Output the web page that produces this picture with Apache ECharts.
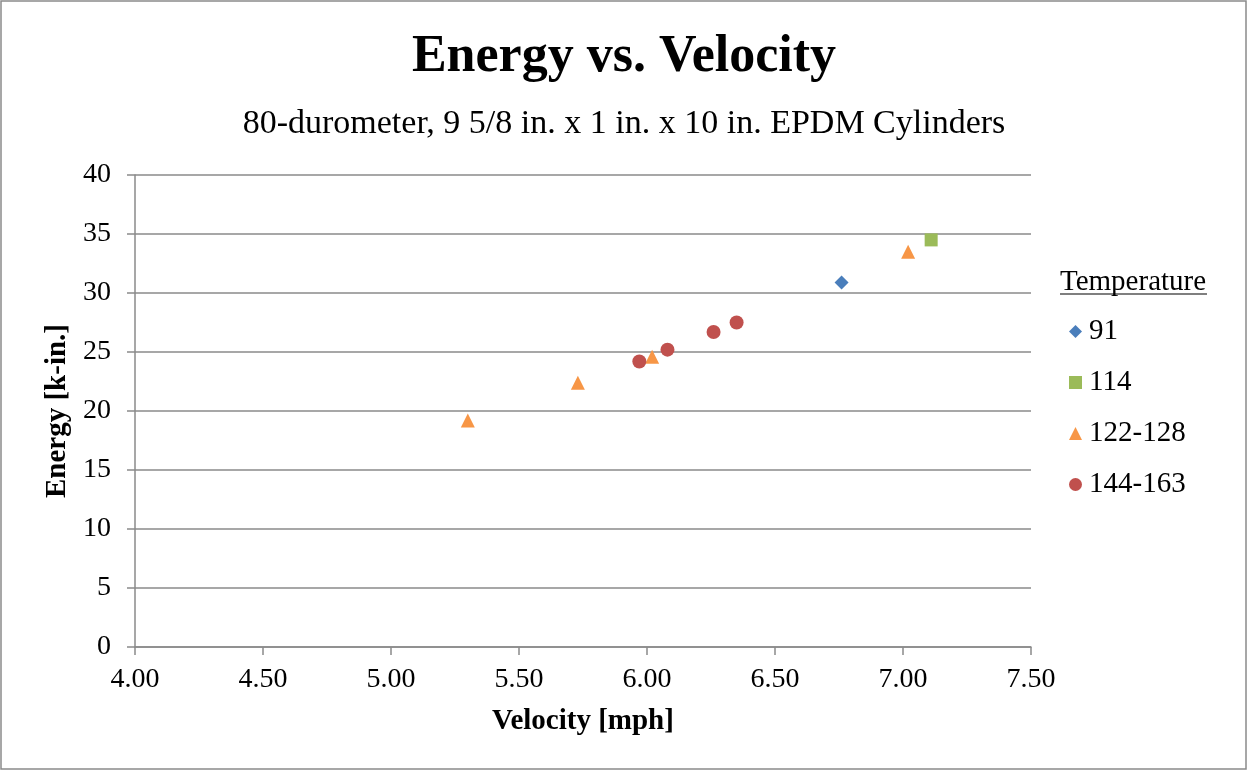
<!DOCTYPE html>
<html>
<head>
<meta charset="utf-8">
<title>Energy vs. Velocity</title>
<script src="https://cdn.jsdelivr.net/npm/echarts@6/dist/echarts.min.js"></script>
<style>
  html, body { margin: 0; padding: 0; background: #fff; }
  #chart { width: 1248px; height: 771px; }
</style>
</head>
<body>
<div id="chart"></div>
<script>
// data
var seriesNames = ['91', '114', '122-128', '144-163']
var temp91 = [[6.76, 30.9]]
var temp114 = [[7.11, 34.5]]
var temp122 = [[5.30, 19.2], [5.73, 22.4], [6.02, 24.6], [7.02, 33.5]]
var temp144 = [[5.97, 24.2], [6.08, 25.2], [6.26, 26.7], [6.35, 27.5]]
var xTicks = [4.0, 4.5, 5.0, 5.5, 6.0, 6.5, 7.0, 7.5]
var yTicks = [0, 5, 10, 15, 20, 25, 30, 35, 40]

;(function () {
  var font = '"Liberation Serif", "Times New Roman", serif'
  var gridColor = '#8a8a8a'
  var myChart = echarts.init(document.getElementById('chart'))

  var mk = function (name, data, symbol, size, color) {
    return {
      name: name,
      type: 'scatter',
      data: data,
      symbol: symbol,
      symbolSize: size,
      itemStyle: { color: color, opacity: 1 },
    }
  }

  var option = {
    backgroundColor: '#fff',
    animation: false,
    textStyle: { fontFamily: font },
    title: [
      {
        text: 'Energy vs. Velocity',
        left: 'center',
        top: 27,
        textStyle: { fontFamily: font, fontSize: 52, fontWeight: 'bold', color: '#000' },
      },
      {
        text: '80-durometer, 9 5/8 in. x 1 in. x 10 in. EPDM Cylinders',
        left: 'center',
        top: 102,
        textStyle: { fontFamily: font, fontSize: 34, fontWeight: 'normal', color: '#000' },
      },
    ],
    grid: { left: 135, right: 217, top: 175, bottom: 124 },
    legend: {
      data: [
        { name: '91', icon: 'diamond' },
        { name: '114', icon: 'rect' },
        { name: '122-128', icon: 'triangle' },
        { name: '144-163', icon: 'circle' },
      ],
      orient: 'vertical',
      left: 1064,
      top: 312,
      itemWidth: 13,
      itemHeight: 13,
      itemGap: 22,
      textStyle: { fontFamily: font, fontSize: 29, color: '#000', padding: [0, 0, 0, 2] },
    },
    graphic: [
      {
        type: 'rect',
        shape: { x: 1, y: 1, width: 1245, height: 768 },
        style: { fill: 'none', stroke: '#8a8a8a', lineWidth: 1.5 },
      },
      {
        type: 'text',
        left: 1060,
        top: 268,
        style: { text: 'Temperature', font: '29px ' + font, fill: '#000' },
      },
      {
        type: 'line',
        shape: { x1: 1060, y1: 294, x2: 1207, y2: 294 },
        style: { stroke: '#000', lineWidth: 1.2 },
      },
    ],
    xAxis: {
      type: 'value',
      min: xTicks[0],
      max: xTicks[xTicks.length - 1],
      interval: 0.5,
      name: 'Velocity [mph]',
      nameLocation: 'middle',
      nameGap: 60,
      nameTextStyle: { fontFamily: font, fontSize: 29, fontWeight: 'bold', color: '#000' },
      axisLine: { show: true, lineStyle: { color: gridColor, width: 1.5 } },
      axisTick: { show: true, length: 8, lineStyle: { color: gridColor, width: 1.5 } },
      axisLabel: {
        fontFamily: font, fontSize: 28, color: '#000', margin: 19,
        formatter: function (v) { return v.toFixed(2) },
      },
      splitLine: { show: false },
    },
    yAxis: {
      type: 'value',
      min: yTicks[0],
      max: yTicks[yTicks.length - 1],
      interval: 5,
      name: 'Energy [k-in.]',
      nameLocation: 'middle',
      nameGap: 62,
      nameRotate: 90,
      nameTextStyle: { fontFamily: font, fontSize: 29, fontWeight: 'bold', color: '#000' },
      axisLine: { show: true, lineStyle: { color: gridColor, width: 1.5 } },
      axisTick: { show: true, length: 8, lineStyle: { color: gridColor, width: 1.5 } },
      axisLabel: { fontFamily: font, fontSize: 28, color: '#000', margin: 24 },
      splitLine: { show: true, lineStyle: { color: gridColor, width: 1.5 } },
    },
    series: [
      mk(seriesNames[0], temp91, 'diamond', 14, '#4a7ebb'),
      mk(seriesNames[1], temp114, 'rect', 13, '#9bbb59'),
      mk(seriesNames[2], temp122, 'triangle', 14, '#f79646'),
      mk(seriesNames[3], temp144, 'circle', 14, '#c0504d'),
    ],
  }

  myChart.setOption(option)
})()
</script>
</body>
</html>
